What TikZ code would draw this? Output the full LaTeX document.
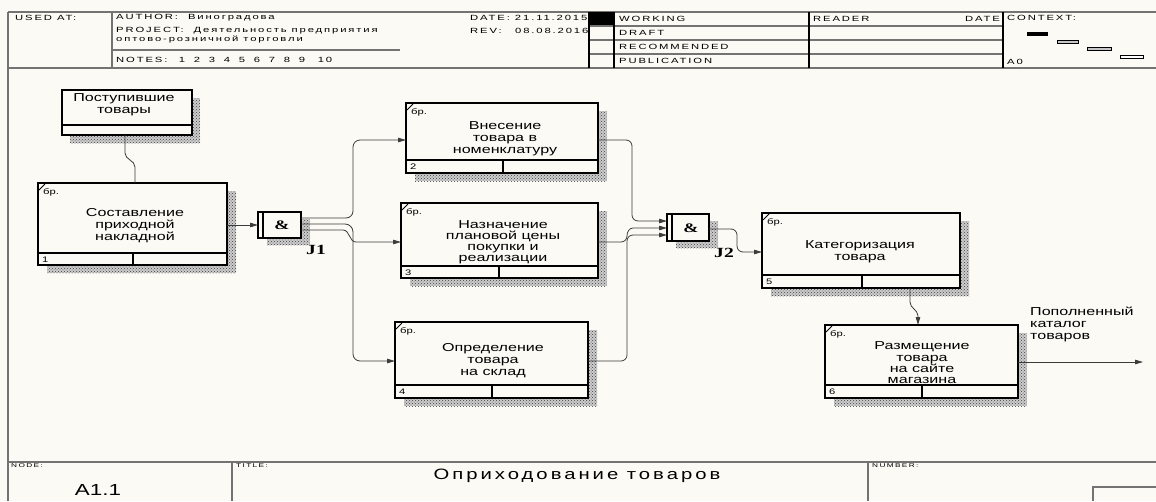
\documentclass[tikz,border=0pt]{standalone}
\usepackage{fontspec}
\setmainfont{Liberation Sans}
\newfontfamily\bxf{Liberation Sans}[FakeStretch=1.4]
\newfontfamily\hdf{Liberation Sans}[FakeStretch=1.5,LetterSpace=25]
\newfontfamily\ttlf{Liberation Sans}[FakeStretch=1.35,LetterSpace=20]
\newfontfamily\jf{Liberation Serif}[FakeStretch=1.4]
\usetikzlibrary{arrows.meta,patterns,calc}
\definecolor{bg}{RGB}{252,250,244}
\definecolor{ln}{RGB}{60,60,60}
\tikzset{
 frame/.style={draw=black!55, line width=1.1pt},
 darkline/.style={draw=black, line width=1.3pt},
 boxst/.style={draw=black, line width=1.6pt, fill=bg, inner sep=0pt, outer sep=0pt},
 shadowpat/.style={fill=gray!40, postaction={pattern=crosshatch dots, pattern color=black!75}},
 conn/.style={draw=ln, line width=0.8pt},
 arr/.style={conn, -{Triangle[length=8pt,width=4.5pt]}},
 btext/.style={font=\bxf\fontsize{11.5}{12}\selectfont, align=center, inner sep=0pt},
 htext/.style={font=\hdf\fontsize{7.5}{8}\selectfont, anchor=west, inner sep=0pt},
 tiny/.style={font=\hdf\fontsize{5.5}{6}\selectfont, anchor=west, inner sep=0pt},
 small/.style={font=\bxf\fontsize{8}{9}\selectfont, inner sep=0pt},
 jt/.style={font=\jf\bfseries\fontsize{14}{14}\selectfont, inner sep=0pt},
 amp/.style={font=\jf\bfseries\fontsize{13}{13}\selectfont, inner sep=0pt},
}
% name, x1, y1, x2, y2, row y, divider x, number
\newcommand{\ibox}[8]{%
 \fill[shadowpat] (#2+9,#3+8) rectangle (#4+9,#5+8);
 \node[boxst, minimum width={(#4-#2)*1pt}, minimum height={(#5-#3)*1pt}] (#1) at ({(#2+#4)/2},{(#3+#5)/2}) {};
 \draw[line width=1.2pt] (#2,#6) -- (#4,#6);
 \draw[line width=1.6pt] (#7,#6) -- (#7,#5);
 \node[small, anchor=west] (#1n) at (#2+4,{(#6+#5)/2+0.5}) {#8};
 \node[small, anchor=west] (#1c) at (#2+5,#3+9) {бр.};
 \draw[line width=0.8pt] (#2+1,#3+7) -- (#2+7,#3+1);
}
\begin{document}
\begin{tikzpicture}[x=1pt,y=-1pt]
\fill[bg] (0,0) rectangle (1156,501);
\useasboundingbox (0,0) rectangle (1156,501);

% ---------- header ----------
\draw[frame] (8,12) -- (1156,12);
\draw[frame] (8,68) -- (1156,68);
\draw[frame] (8,12) -- (8,501);
\draw[frame] (112,12) -- (112,68);
\draw[frame] (112,50) -- (400,50);
\fill[black] (589,12) rectangle (614,26);
\draw[frame] (589,26) -- (1003,26);
\draw[frame] (589,40) -- (1003,40);
\draw[frame] (589,54) -- (1003,54);
\draw[darkline] (589,12) -- (589,68);
\draw[darkline] (614,12) -- (614,68);
\draw[darkline] (809,12) -- (809,68);
\draw[darkline] (1003,12) -- (1003,68);

\node[htext] (usedat) at (15,18) {USED AT:};
\node[htext] (author) at (116,18) {AUTHOR:\ \ Виноградова};
\node[htext] (project) at (116,31) {PROJECT:\ \ Деятельность предприятия};
\node[htext] (project2) at (116,39) {оптово-розничной торговли};
\node[htext] (notes) at (116,60) {NOTES:};
\foreach \n [count=\i] in {1,2,3,4,5,6,7,8,9} {
  \node[htext, anchor=center] (note\i) at ({182+15*(\i-1)},60) {\n};
}
\node[htext, anchor=center] (note10) at (325,60) {10};
\node[htext] (date) at (470,18) {DATE: 21.11.2015};
\node[htext] (rev) at (470,31) {REV:};
\node[htext] (revd) at (515,31) {08.08.2016};
\node[htext] (working) at (619,19) {WORKING};
\node[htext] (draft) at (619,33) {DRAFT};
\node[htext] (recom) at (619,47) {RECOMMENDED};
\node[htext] (publ) at (619,61) {PUBLICATION};
\node[htext] (reader) at (813,19) {READER};
\node[htext, anchor=east] (rdate) at (1000,19) {DATE};
\node[htext] (context) at (1007,18) {CONTEXT:};
\node[htext] (a0) at (1007,62) {A0};
\fill[black] (1027,32) rectangle (1048,36);
\draw[fill=gray!45, line width=0.6pt] (1057,40) rectangle (1078,43);
\draw[fill=gray!45, line width=0.6pt] (1087,47) rectangle (1111,50);
\draw[fill=white, line width=0.6pt] (1120,55) rectangle (1143,58);

% ---------- footer ----------
\draw[frame] (8,462) -- (1156,462);
\draw[frame] (232,462) -- (232,501);
\draw[frame] (868,462) -- (868,501);
\draw[frame] (1156,487) -- (1093,487) -- (1093,501);
\node[tiny] (nodel) at (11,466) {NODE:};
\node[tiny] (titlel) at (236,466) {TITLE:};
\node[tiny] (numl) at (872,466) {NUMBER:};
\node[font=\bxf\fontsize{16}{16}\selectfont, inner sep=0pt] (nodeno) at (98,490) {A1.1};
\node[font=\ttlf\fontsize{15}{15}\selectfont, inner sep=0pt] (title) at (577,476) {Оприходование товаров};

% ---------- source box ----------
\fill[shadowpat] (70,98) rectangle (200,143);
\node[boxst, minimum width=130pt, minimum height=45pt] (src) at (127,112.5) {};
\draw[line width=1.2pt] (62,125) -- (192,125);
\node[btext] (srct) at (124,105) {Поступившие\\товары};

% ---------- activity boxes ----------
\ibox{b1}{38}{183}{227}{265}{253}{133}{1}
\ibox{b2}{406}{103}{598}{173}{160}{503}{2}
\ibox{b3}{401}{203}{598}{278}{266}{499}{3}
\ibox{b4}{395}{322}{588}{398}{385}{492}{4}
\ibox{b5}{762}{213}{960}{288}{275}{862}{5}
\ibox{b6}{825}{325}{1018}{398}{385}{922}{6}

\node[btext] (t1) at (135,226) {Составление\\приходной\\накладной};
\node[btext] (t2) at (505,139) {Внесение\\товара в\\номенклатуру};
\node[btext, font=\bxf\fontsize{11.5}{11}\selectfont] (t3) at (503,242) {Назначение\\плановой цены\\покупки и\\реализации};
\node[btext] (t4) at (493,361) {Определение\\товара\\на склад};
\node[btext] (t5) at (860,252) {Категоризация\\товара};
\node[btext, font=\bxf\fontsize{11.5}{11.3}\selectfont] (t6) at (922,363) {Размещение\\товара\\на сайте\\магазина};

% ---------- junctions ----------
\fill[shadowpat] (267,219) rectangle (310,245);
\node[boxst, line width=1.3pt, minimum width=43pt, minimum height=26pt] (j1) at (279.5,225) {};
\draw[line width=1.3pt] (263,212) -- (263,238);
\node[amp] (j1a) at (282,225) {\&};
\node[jt] (j1l) at (316,250) {J1};

\fill[shadowpat] (676,221) rectangle (718,248);
\node[boxst, line width=1.3pt, minimum width=42pt, minimum height=27pt] (j2) at (688,227.5) {};
\draw[line width=1.3pt] (672,214) -- (672,241);
\node[amp] (j2a) at (691,228) {\&};
\node[jt] (j2l) at (724,253) {J2};

% ---------- connectors ----------
\draw[conn] (src.south -| 125,0) -- (125,153) to[out=-90,in=90] (135,167) -- (b1.north -| 135,0);
\draw[arr] (b1.east |- 0,225) -- (j1.west);

\draw[arr] (j1.east |- 0,218) -- (346,218) to[out=0,in=-90] (353,211) -- (353,147) to[out=90,in=180] (360,140) -- (b2.west |- 0,140);
\draw[arr] (j1.east |- 0,224) -- (345,224) to[out=0,in=90] (353,232) -- (353,354) to[out=-90,in=180] (360,361) -- (b4.west |- 0,361);
\draw[arr] (j1.east |- 0,230) -- (343,230) to[out=0,in=180] (356,242) -- (b3.west |- 0,242);

\draw[arr] (b2.east |- 0,140) -- (626,140) to[out=0,in=90] (632,146) -- (632,215) to[out=-90,in=180] (638,221) -- (j2.west |- 0,221);
\draw[arr] (b3.east |- 0,242) -- (621,242) to[out=0,in=-90] (627,236) to[out=90,in=180] (633,228) -- (j2.west |- 0,228);
\draw[arr] (b4.east |- 0,361) -- (621,361) to[out=0,in=-90] (627,355) -- (627,241) to[out=90,in=180] (633,235) -- (j2.west |- 0,235);

\draw[arr] (j2.east |- 0,229) -- (731,229) to[out=0,in=90] (737,235) -- (737,246) to[out=-90,in=180] (743,252) -- (b5.west |- 0,252);

\draw[arr] (b5.south -| 910,0) -- (910,302) to[out=-90,in=90] (918,316) -- (b6.north -| 918,0);

\coordinate (outend) at (1143,362);
\draw[arr] (b6.east |- outend) -- (outend);
\node[btext, align=left, anchor=west] (outl) at (1030,324) {Пополненный\\каталог\\товаров};
\end{tikzpicture}
\end{document}
